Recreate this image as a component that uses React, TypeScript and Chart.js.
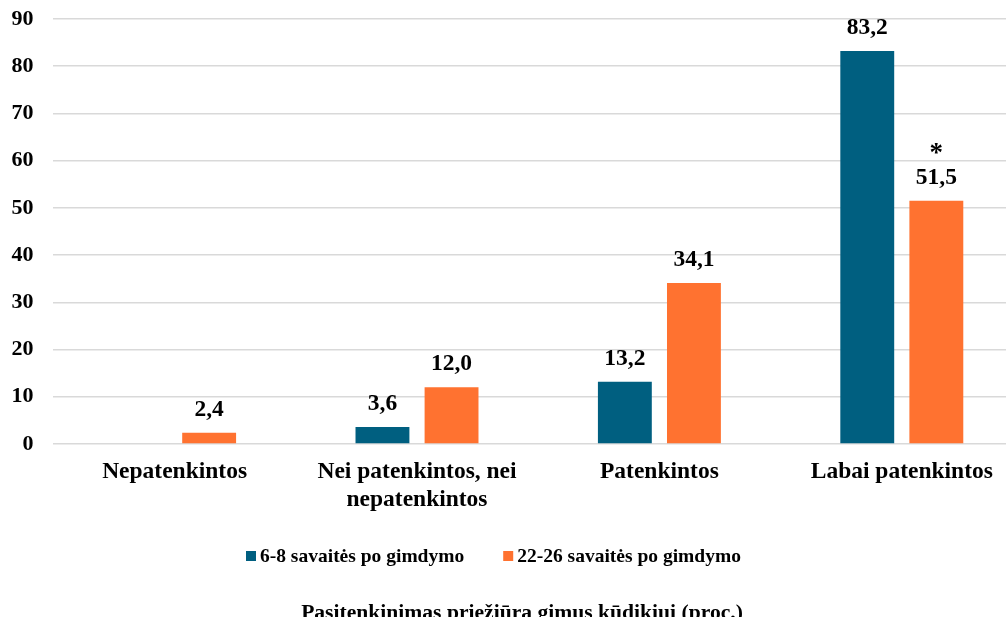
import React, { useEffect, useRef } from "react";
import { Chart, registerables } from "chart.js";

Chart.register(...registerables);

const categories: (string | string[])[] = [
  "Nepatenkintos",
  ["Nei patenkintos, nei", "nepatenkintos"],
  "Patenkintos",
  "Labai patenkintos",
];
const seriesNames = ["6-8 savaitės po gimdymo", "22-26 savaitės po gimdymo"];
const series1: (number | null)[] = [null, 3.6, 13.2, 83.2];
const series2: (number | null)[] = [2.4, 12.0, 34.1, 51.5];
const series2Marks = [false, false, false, true];
const yTicks = [0, 10, 20, 30, 40, 50, 60, 70, 80, 90];
const chartTitle = "Pasitenkinimas priežiūra gimus kūdikiui (proc.)";

const TEAL = "#005F80";
const ORANGE = "#FF7230";
const FONT = '"Liberation Serif", "Times New Roman", serif';

const overlayPlugin = {
  id: "overlay",
  afterDatasetsDraw(chart: any) {
    const ctx = chart.ctx as CanvasRenderingContext2D;
    ctx.save();
    ctx.fillStyle = "#000";
    ctx.textAlign = "center";
    ctx.textBaseline = "alphabetic";
    chart.data.datasets.forEach((ds: any, di: number) => {
      const meta = chart.getDatasetMeta(di);
      meta.data.forEach((bar: any, i: number) => {
        const v = ds.data[i];
        if (v == null) return;
        const txt = Number(v).toFixed(1).replace(".", ",");
        ctx.font = `bold 23.5px ${FONT}`;
        ctx.fillText(txt, bar.x, bar.y - 17);
        if (ds.marks && ds.marks[i]) {
          ctx.font = `bold 27px ${FONT}`;
          ctx.fillText("*", bar.x, bar.y - 40);
        }
      });
    });

    // legend
    ctx.font = `bold 19.5px ${FONT}`;
    ctx.textAlign = "left";
    ctx.textBaseline = "middle";
    let x = 246;
    const ly = 556;
    chart.data.datasets.forEach((ds: any) => {
      ctx.fillStyle = ds.backgroundColor;
      ctx.fillRect(x, ly - 5, 10, 10);
      ctx.fillStyle = "#000";
      ctx.fillText(ds.label, x + 14, ly + 1);
      x += 14 + ctx.measureText(ds.label).width + 39;
    });

    // title
    ctx.font = `bold 21.6px ${FONT}`;
    ctx.textAlign = "center";
    ctx.textBaseline = "alphabetic";
    ctx.fillText(chartTitle, 522, 619);
    ctx.restore();
  },
};

export default function App() {
  const ref = useRef<HTMLCanvasElement>(null);
  useEffect(() => {
    document.body.style.margin = "0";
    document.body.style.overflow = "hidden";
    const chart = new Chart(ref.current!, {
      type: "bar",
      data: {
        labels: categories,
        datasets: [
          {
            label: seriesNames[0],
            data: series1,
            backgroundColor: TEAL,
            categoryPercentage: 0.57,
            barPercentage: 0.78,
          } as any,
          {
            label: seriesNames[1],
            data: series2,
            backgroundColor: ORANGE,
            categoryPercentage: 0.57,
            barPercentage: 0.78,
            marks: series2Marks,
          } as any,
        ],
      },
      options: {
        animation: false,
        responsive: false,
        layout: { padding: { top: 19, right: 17, left: 0, bottom: 0 } },
        plugins: {
          legend: { display: false },
          title: { display: false },
          tooltip: { enabled: false },
        },
        scales: {
          x: {
            grid: { display: false, drawTicks: false },
            border: { display: false },
            ticks: {
              color: "#000",
              font: { family: FONT, weight: "bold", size: 23.5 },
              padding: 14,
              maxRotation: 0,
              autoSkip: false,
            },
            afterFit: (s: any) => {
              s.height = 173;
              s.paddingTop = 0;
              s.paddingBottom = 0;
            },
          },
          y: {
            min: 0,
            max: 90,
            afterBuildTicks: (s: any) => {
              s.ticks = yTicks.map((v) => ({ value: v }));
            },
            grid: { color: "#d9d9d9", lineWidth: 1.5, drawTicks: false },
            border: { display: false },
            ticks: {
              color: "#000",
              font: { family: FONT, weight: "bold", size: 22 },
              padding: 20,
            },
            afterFit: (s: any) => {
              s.width = 53.4;
              s.paddingTop = 0;
              s.paddingBottom = 0;
            },
          },
        },
      },
      plugins: [overlayPlugin],
    });
    return () => chart.destroy();
  }, []);
  return <canvas ref={ref} width={1040} height={617} style={{ display: "block" }} />;
}
